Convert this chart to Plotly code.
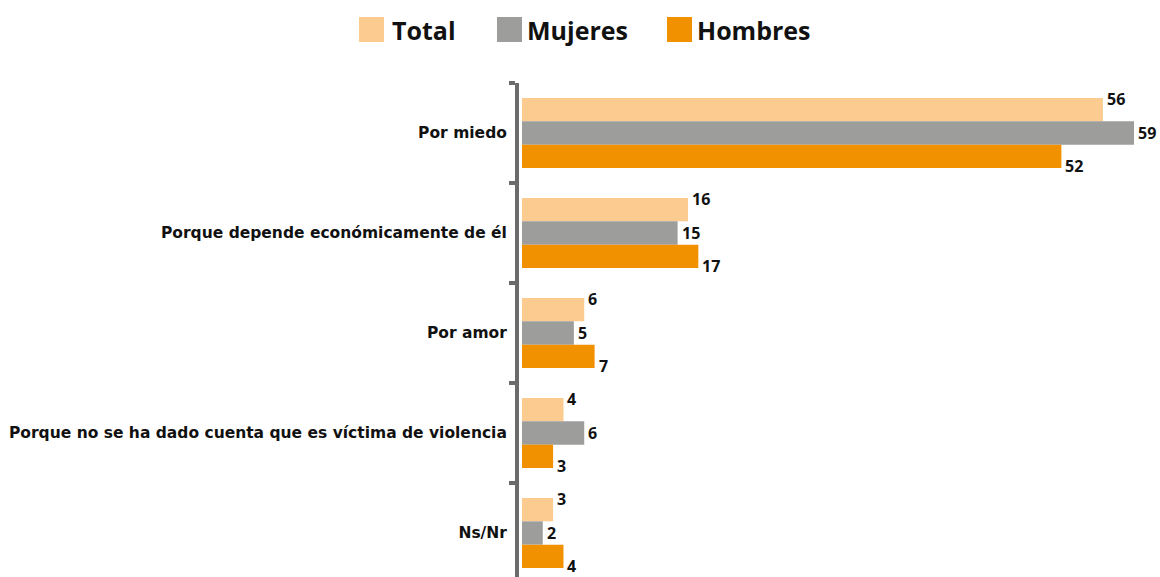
import plotly.graph_objects as go

# Razones por las que una mujer no deja al agresor (%)
categories = [
    "Por miedo",
    "Porque depende económicamente de él",
    "Por amor",
    "Porque no se ha dado cuenta que es víctima de violencia",
    "Ns/Nr",
]
series_names = ["Total", "Mujeres", "Hombres"]
total = [56, 16, 6, 4, 3]
mujeres = [59, 15, 5, 6, 2]
hombres = [52, 17, 7, 3, 4]

colors = ["#FBCB8F", "#9D9D9C", "#F29100"]
values = [total, mujeres, hombres]
label_shift = [34, 0, -33]  # vertical offset of value labels per series (px)

W, H = 1160, 577
ML, MR, MT, MB = 519, 20, 83, 0
PX_PER_UNIT = 10.373
X_START = 522  # pixel where value 0 sits


def paper_x(px):
    return (px - ML) / (W - ML - MR)


def paper_y(py):
    return (H - MB - py) / (H - MT - MB)


LABEL_FONT = "DejaVu Sans"
NUM_FONT = "Open Sans"

fig = go.Figure()
for name, vals, col in zip(series_names, values, colors):
    fig.add_trace(go.Bar(
        name=name, y=categories, x=vals, orientation="h",
        marker=dict(color=col, line=dict(width=0)),
        showlegend=False,
    ))

annotations = []
for vals, shift in zip(values, label_shift):
    for cat, v in zip(categories, vals):
        annotations.append(dict(
            x=v, y=cat, xref="x", yref="y", text=str(v),
            showarrow=False, xanchor="left", yanchor="middle",
            xshift=2, yshift=shift,
            font=dict(family=NUM_FONT, size=16, color="#111111", weight="bold"),
        ))

# Legend: coloured squares with bold labels above the chart
legend_sq = [359, 497, 667]
legend_txt = [390, 525, 695]
shapes = []
for name, col, sx, tx in zip(series_names, colors, legend_sq, legend_txt):
    shapes.append(dict(
        type="rect", xref="paper", yref="paper",
        x0=paper_x(sx), x1=paper_x(sx + 25),
        y0=paper_y(42), y1=paper_y(17),
        fillcolor=col, line=dict(width=0), layer="above",
    ))
    annotations.append(dict(
        x=paper_x(tx), y=paper_y(30), xref="paper", yref="paper",
        text=name, showarrow=False, xanchor="left", yanchor="middle",
        font=dict(family=NUM_FONT, size=25, color="#111111", weight="bold"),
    ))

fig.update_layout(
    width=W, height=H,
    margin=dict(l=ML, r=MR, t=MT, b=MB),
    paper_bgcolor="white", plot_bgcolor="white",
    barmode="group", bargap=0.3, bargroupgap=0,
    showlegend=False,
    annotations=annotations, shapes=shapes,
    xaxis=dict(
        range=[(ML - X_START) / PX_PER_UNIT, (W - MR - X_START) / PX_PER_UNIT],
        showgrid=False, zeroline=False, showline=False,
        showticklabels=False, ticks="",
    ),
    yaxis=dict(
        categoryorder="array", categoryarray=categories,
        autorange=False, range=[4.44, -0.5],
        showgrid=False, zeroline=False,
        showline=True, linecolor="#6B6B6B", linewidth=4,
        ticks="outside", tickson="boundaries", ticklen=6,
        tickwidth=4, tickcolor="#6B6B6B",
        tickfont=dict(family=LABEL_FONT, size=15.5, color="#111111", weight="bold"),
        ticklabelstandoff=5,
    ),
)

fig.write_html("out.html")
